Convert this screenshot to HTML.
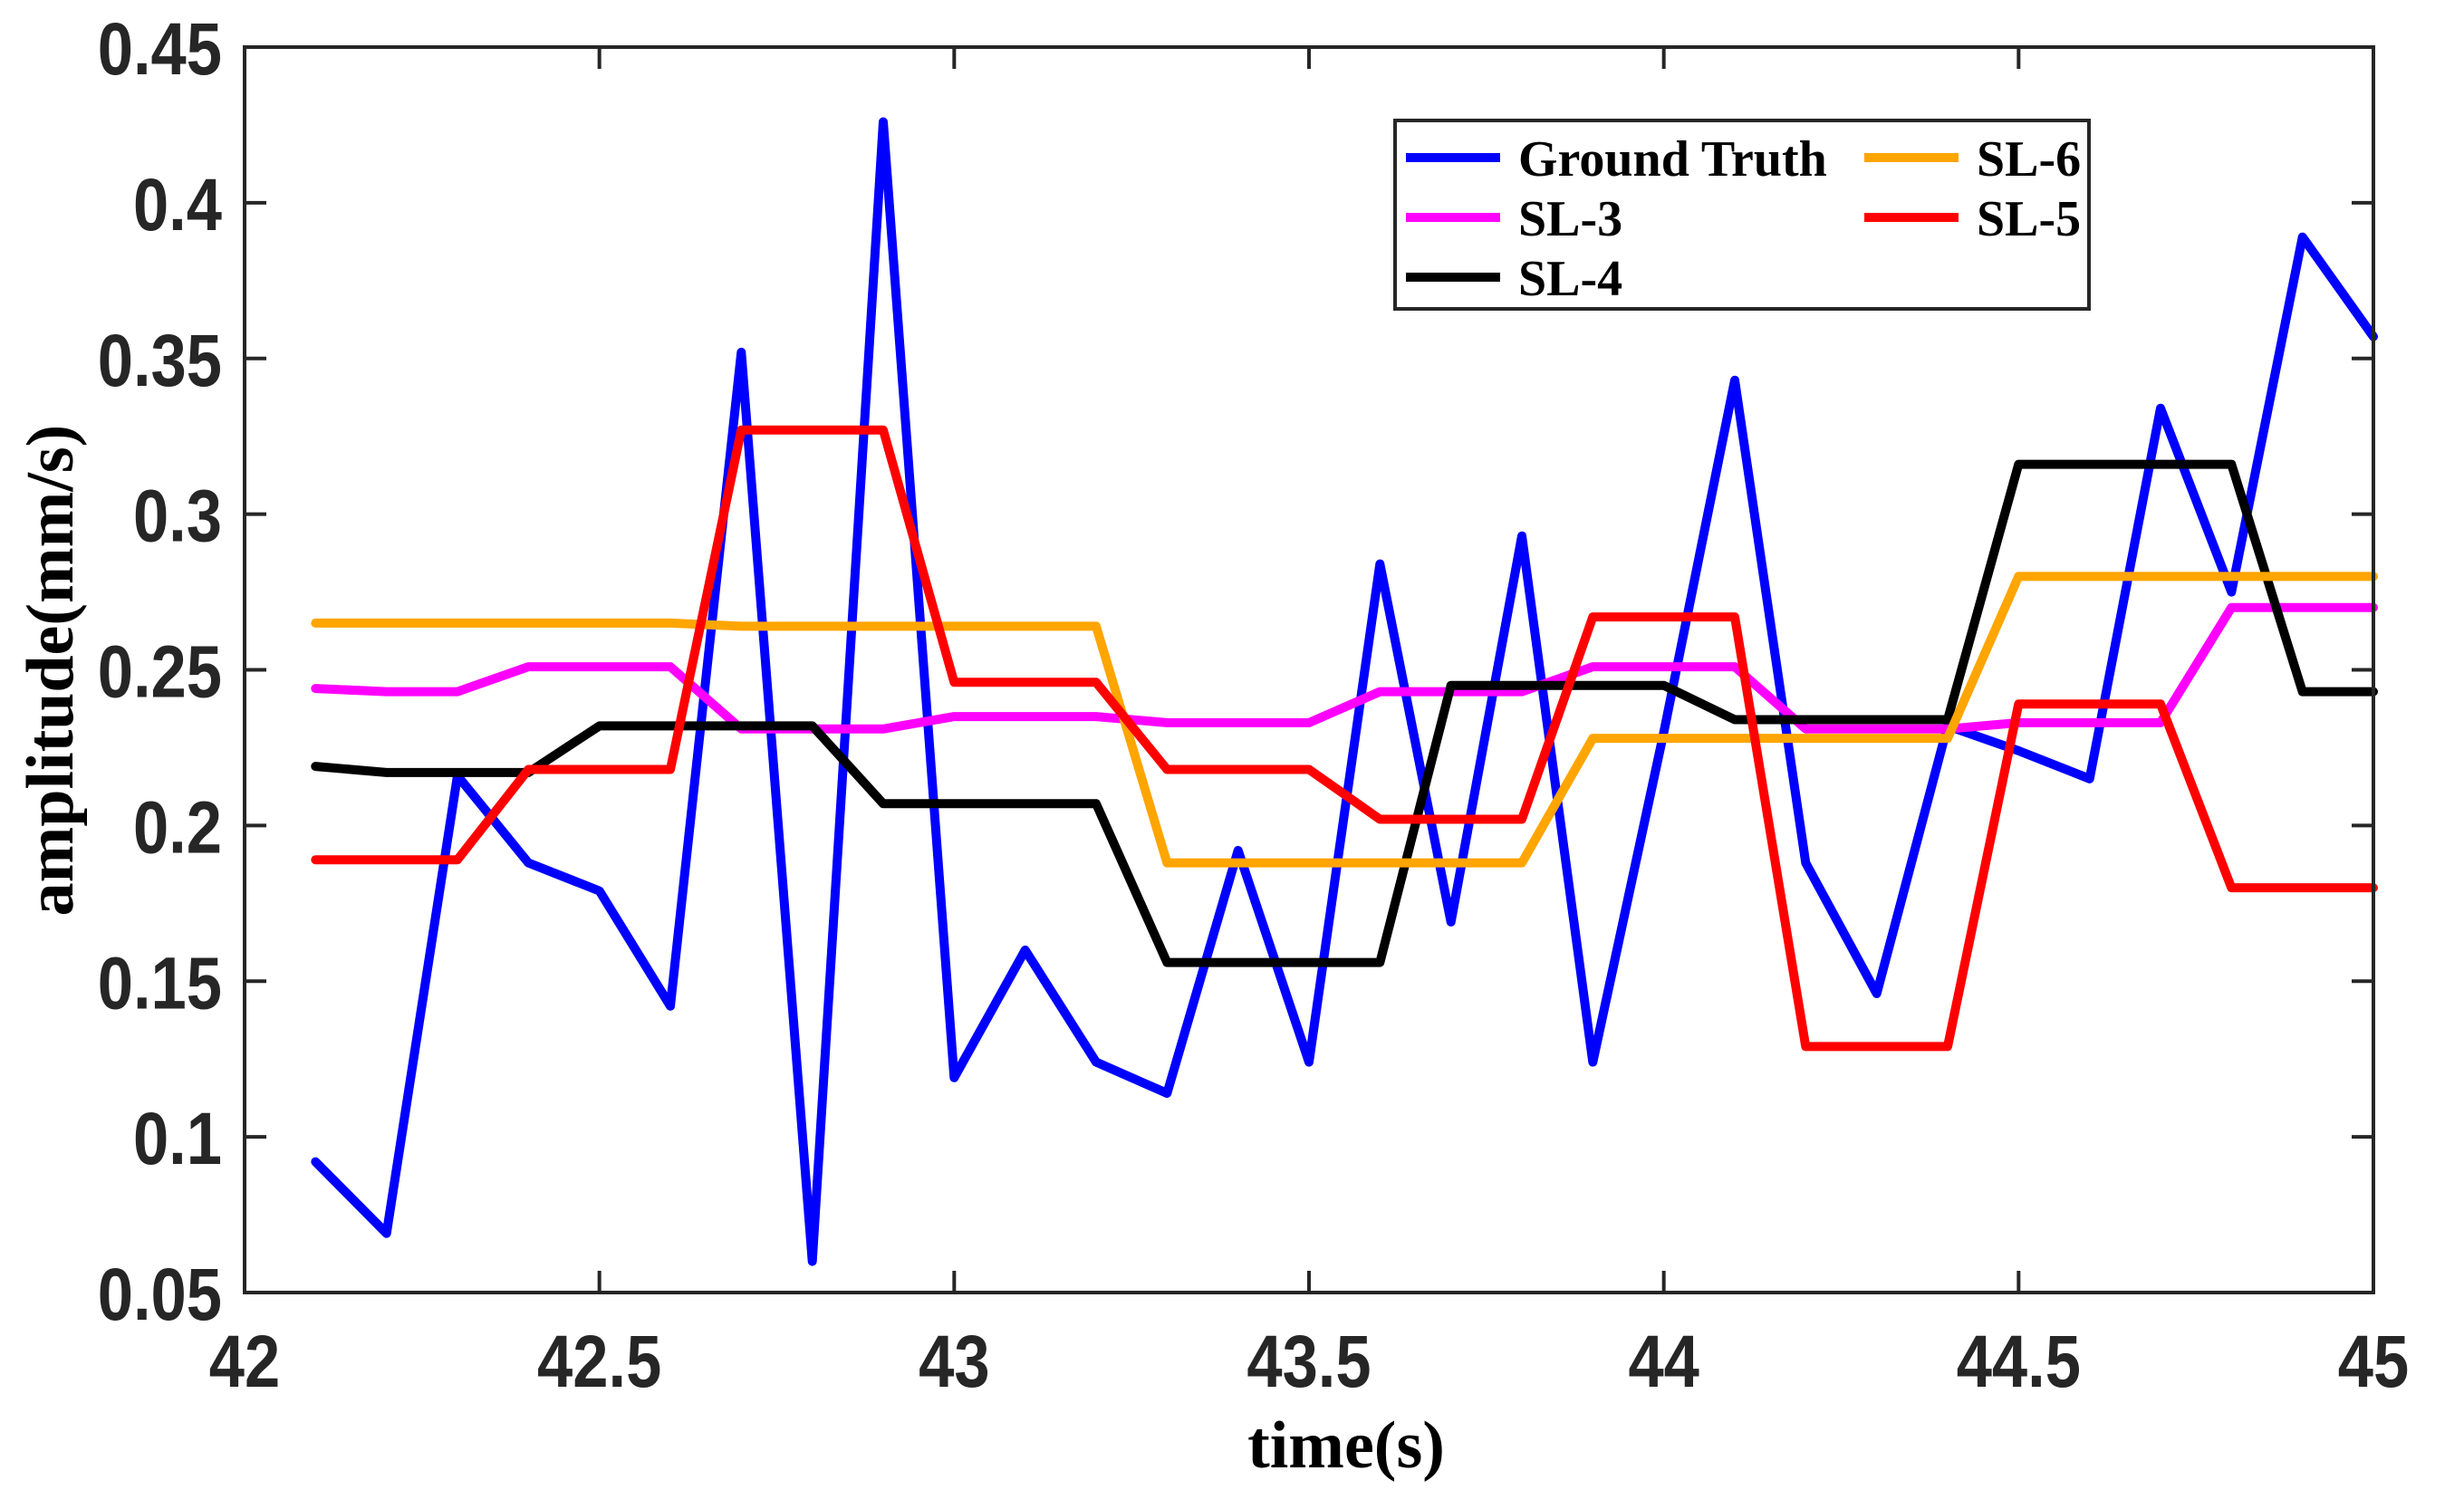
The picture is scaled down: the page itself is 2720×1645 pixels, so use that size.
<!DOCTYPE html>
<html><head><meta charset="utf-8">
<style>
html,body{margin:0;padding:0;background:#fff;}
svg{display:block;}
.tick{font-family:"Liberation Sans",Arial,sans-serif;font-weight:bold;font-size:82px;fill:#262626;}
.lab{font-family:"Liberation Serif","Times New Roman",serif;font-weight:bold;font-size:74px;fill:#000;}
.leg{font-family:"Liberation Serif","Times New Roman",serif;font-weight:bold;font-size:56px;fill:#000;}
</style></head>
<body>
<svg id="chart" width="2720" height="1645" viewBox="0 0 2720 1645" xmlns="http://www.w3.org/2000/svg">
<rect x="0" y="0" width="2720" height="1645" fill="#fff"/>
<g id="series"></g>
<g id="axes"></g>
<g id="legend"></g>
</svg>
<script>
const times=[42.1,42.2,42.3,42.4,42.5,42.6,42.7,42.8,42.9,43.0,43.1,43.2,43.3,43.4,43.5,43.6,43.7,43.8,43.9,44.0,44.1,44.2,44.3,44.4,44.5,44.6,44.7,44.8,44.9,45.0];
const groundTruth=[0.092,0.069,0.216,0.188,0.179,0.142,0.352,0.060,0.426,0.119,0.160,0.124,0.114,0.192,0.124,0.284,0.169,0.293,0.124,0.230,0.343,0.188,0.146,0.232,0.224,0.215,0.334,0.275,0.389,0.357];
const sl3=[0.244,0.243,0.243,0.251,0.251,0.251,0.231,0.231,0.231,0.235,0.235,0.235,0.233,0.233,0.233,0.243,0.243,0.243,0.251,0.251,0.251,0.231,0.231,0.231,0.233,0.233,0.233,0.270,0.270,0.270];
const sl4=[0.219,0.217,0.217,0.217,0.232,0.232,0.232,0.232,0.207,0.207,0.207,0.207,0.156,0.156,0.156,0.156,0.245,0.245,0.245,0.245,0.234,0.234,0.234,0.234,0.316,0.316,0.316,0.316,0.243,0.243];
const sl6=[0.265,0.265,0.265,0.265,0.265,0.265,0.264,0.264,0.264,0.264,0.264,0.264,0.188,0.188,0.188,0.188,0.188,0.188,0.228,0.228,0.228,0.228,0.228,0.228,0.280,0.280,0.280,0.280,0.280,0.280];
const sl5=[0.189,0.189,0.189,0.218,0.218,0.218,0.327,0.327,0.327,0.246,0.246,0.246,0.218,0.218,0.218,0.202,0.202,0.202,0.267,0.267,0.267,0.129,0.129,0.129,0.239,0.239,0.239,0.180,0.180,0.180];
const xTicks=[42,42.5,43,43.5,44,44.5,45];
const xTickLabels=["42","42.5","43","43.5","44","44.5","45"];
const yTicks=[0.05,0.1,0.15,0.2,0.25,0.3,0.35,0.4,0.45];
const yTickLabels=["0.05","0.1","0.15","0.2","0.25","0.3","0.35","0.4","0.45"];

const NS="http://www.w3.org/2000/svg";
const L=270,R=2620,T=52,B=1427;
const xMin=42,xMax=45,yMin=0.05,yMax=0.45;
function sx(v){return L+(v-xMin)/(xMax-xMin)*(R-L);}
function sy(v){return B-(v-yMin)/(yMax-yMin)*(B-T);}
function mk(tag,attrs,parent){const e=document.createElementNS(NS,tag);for(const k in attrs)e.setAttribute(k,attrs[k]);parent.appendChild(e);return e;}

const sg=document.getElementById('series');
const seriesList=[
 {vals:groundTruth,color:"#0000FF",name:"series-ground-truth"},
 {vals:sl3,color:"#FF00FF",name:"series-sl-3"},
 {vals:sl4,color:"#000000",name:"series-sl-4"},
 {vals:sl6,color:"#FFA500",name:"series-sl-6"},
 {vals:sl5,color:"#FF0000",name:"series-sl-5"}
];
seriesList.forEach(s=>{
  const pts=times.map((t,i)=>sx(t).toFixed(1)+","+sy(s.vals[i]).toFixed(1)).join(" ");
  const p=mk('polyline',{points:pts,fill:"none",stroke:s.color,"stroke-width":10,"stroke-linejoin":"round","stroke-linecap":"round"},sg);
  
  
});

const ag=document.getElementById('axes');
const box=mk('rect',{x:L,y:T,width:R-L,height:B-T,fill:"none",stroke:"#262626","stroke-width":4},ag);


xTicks.forEach((v,i)=>{
  const x=sx(v);
  mk('line',{x1:x,y1:B,x2:x,y2:B-24,stroke:"#262626","stroke-width":4},ag);
  mk('line',{x1:x,y1:T,x2:x,y2:T+24,stroke:"#262626","stroke-width":4},ag);
  const t=mk('text',{x:0,y:0,"text-anchor":"middle",class:"tick",transform:"translate("+x+","+(B+104)+") scale(0.86,1)"},ag);
  t.textContent=xTickLabels[i];
  
  
});
yTicks.forEach((v,i)=>{
  const y=sy(v);
  mk('line',{x1:L,y1:y,x2:L+24,y2:y,stroke:"#262626","stroke-width":4},ag);
  mk('line',{x1:R,y1:y,x2:R-24,y2:y,stroke:"#262626","stroke-width":4},ag);
  const t=mk('text',{x:0,y:0,"text-anchor":"end",class:"tick",transform:"translate(245,"+(y+30)+") scale(0.86,1)"},ag);
  t.textContent=yTickLabels[i];
  
  
});
const xt=mk('text',{x:1486,y:1620,"text-anchor":"middle",class:"lab"},ag);
xt.textContent="time(s)";


const yt=mk('text',{x:0,y:0,"text-anchor":"middle",class:"lab",transform:"translate(80,740) rotate(-90)"},ag);
yt.textContent="amplitude(mm/s)";



const lg=document.getElementById('legend');


mk('rect',{x:1540,y:133,width:766,height:208,fill:"#fff",stroke:"#262626","stroke-width":4},lg);
const legItems=[
 {label:"Ground Truth",color:"#0000FF",x:1552,y:174},
 {label:"SL-3",color:"#FF00FF",x:1552,y:240},
 {label:"SL-4",color:"#000000",x:1552,y:306},
 {label:"SL-6",color:"#FFA500",x:2058,y:174},
 {label:"SL-5",color:"#FF0000",x:2058,y:240}
];
legItems.forEach(it=>{
  const g=mk('g',{},lg);
  
  
  mk('line',{x1:it.x,y1:it.y,x2:it.x+104,y2:it.y,stroke:it.color,"stroke-width":10},g);
  const t=mk('text',{x:it.x+124,y:it.y+20,class:"leg"},g);
  t.textContent=it.label;
});
</script>
</body></html>
